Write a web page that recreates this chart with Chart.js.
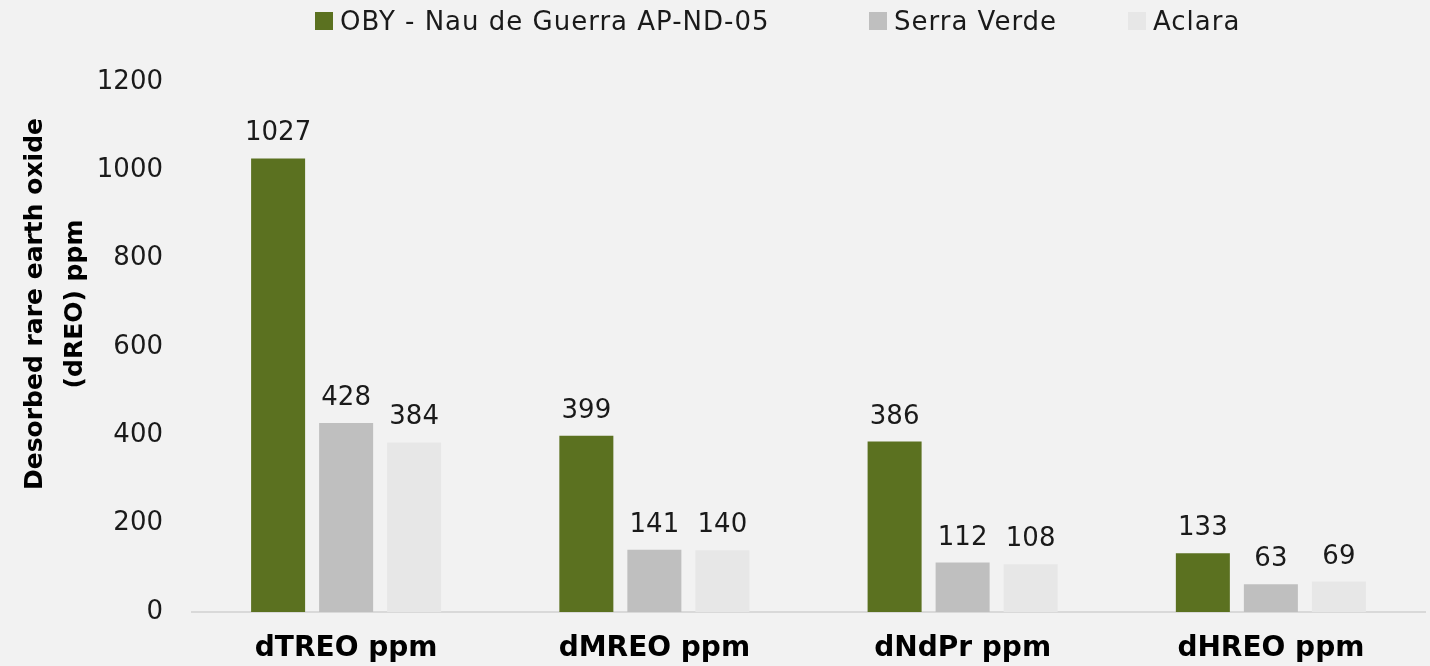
<!DOCTYPE html>
<html>
<head>
<meta charset="utf-8">
<script src="https://cdn.jsdelivr.net/npm/chart.js@4.4.1/dist/chart.umd.min.js"></script>
<style>
  html, body { margin: 0; padding: 0; background: #f2f2f2; }
  #wrap { position: relative; width: 1430px; height: 666px; }
  #legend {
    position: absolute; top: 0; left: 0; width: 1430px; height: 42px;
    font-family: 'DejaVu Sans', sans-serif; font-size: 26px; color: #1a1a1a;
    letter-spacing: 1px; white-space: nowrap;
  }
  #legend .item { position: absolute; top: 0; height: 42px; display: flex; align-items: center; }
  #legend .item:nth-child(1) { left: 315px; }
  #legend .item:nth-child(2) { left: 869px; }
  #legend .item:nth-child(3) { left: 1128px; }
  #legend .box { width: 18px; height: 18px; margin-right: 7px; }
</style>
</head>
<body>
<div id="wrap">
  <div id="legend"></div>
  <canvas id="chart"></canvas>
</div>
<script>
const categories = ["dTREO ppm", "dMREO ppm", "dNdPr ppm", "dHREO ppm"];
const seriesNames = ["OBY - Nau de Guerra AP-ND-05", "Serra Verde", "Aclara"];
const obyValues = [1027, 399, 386, 133];
const serraVerdeValues = [428, 141, 112, 63];
const aclaraValues = [384, 140, 108, 69];
const yTicks = [0, 200, 400, 600, 800, 1000, 1200];
const yTitle = ["Desorbed rare earth oxide", "(dREO) ppm"];

const FONT = "'DejaVu Sans', sans-serif";

// value above each bar
const valueLabels = {
    id: "valueLabels",
    afterDatasetsDraw(chart) {
        const ctx = chart.ctx;
        ctx.save();
        ctx.font = "26px " + FONT;
        ctx.fillStyle = "#1a1a1a";
        ctx.textAlign = "center";
        ctx.textBaseline = "alphabetic";
        chart.data.datasets.forEach((ds, i) => {
            chart.getDatasetMeta(i).data.forEach((bar, j) => {
                ctx.fillText(String(ds.data[j]), bar.x, bar.y - 18);
            });
        });
        ctx.restore();
    },
};

// y axis title, sits a bit above the middle of the plot like the original
const axisTitle = {
    id: "axisTitle",
    afterDraw(chart) {
        const ctx = chart.ctx;
        ctx.save();
        ctx.translate(55, 304);
        ctx.rotate(-Math.PI / 2);
        ctx.font = "bold 25px " + FONT;
        ctx.fillStyle = "#000";
        ctx.textAlign = "center";
        ctx.textBaseline = "middle";
        ctx.fillText(yTitle[0], 0, -20);
        ctx.fillText(yTitle[1], 0, 20);
        ctx.restore();
    },
};

const chart = new Chart(document.getElementById("chart"), {
    type: "bar",
    data: {
        labels: categories,
        datasets: [
            { label: seriesNames[0], data: obyValues, backgroundColor: "#5b7120" },
            { label: seriesNames[1], data: serraVerdeValues, backgroundColor: "#bfbfbf" },
            { label: seriesNames[2], data: aclaraValues, backgroundColor: "#e7e7e7" },
        ],
    },
    options: {
        responsive: true,
        maintainAspectRatio: false,
        animation: false,
        layout: { padding: { top: 82, right: 5, left: 0, bottom: 0 } },
        datasets: { bar: { categoryPercentage: 0.662, barPercentage: 0.794 } },
        plugins: {
            legend: { display: false },
            tooltip: { enabled: false },
        },
        scales: {
            x: {
                afterFit(scale) { scale.height = 54; },
                grid: { display: false, drawTicks: false },
                border: { display: true, color: "#d9d9d9", width: 2 },
                ticks: {
                    padding: 20,
                    color: "#000",
                    font: { family: FONT, size: 28, weight: "bold" },
                },
            },
            y: {
                min: 0,
                max: 1200,
                afterFit(scale) { scale.width = 192; },
                afterBuildTicks(scale) { scale.ticks = yTicks.map(v => ({ value: v })); },
                grid: { display: false, drawTicks: false },
                border: { display: false },
                ticks: {
                    padding: 29,
                    color: "#1a1a1a",
                    font: { family: FONT, size: 26 },
                    callback: (v) => String(v),
                },
            },
        },
    },
    plugins: [valueLabels, axisTitle],
});

// html legend built from the datasets
const legendEl = document.getElementById("legend");
chart.data.datasets.forEach((ds) => {
    const item = document.createElement("div");
    item.className = "item";
    const box = document.createElement("span");
    box.className = "box";
    box.style.background = ds.backgroundColor;
    const text = document.createElement("span");
    text.textContent = ds.label;
    item.appendChild(box);
    item.appendChild(text);
    legendEl.appendChild(item);
});
</script>
</body>
</html>
